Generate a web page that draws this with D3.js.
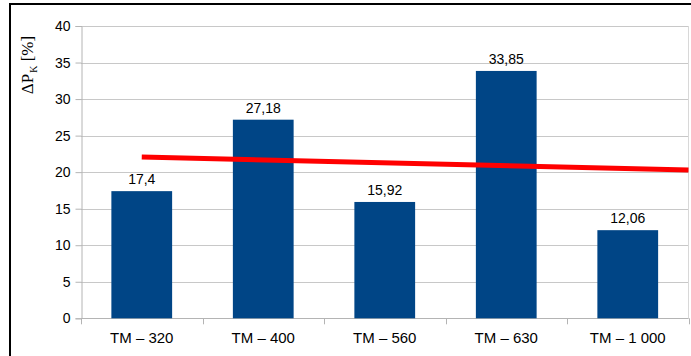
<!DOCTYPE html>
<html lang="en">
    <head>
        <meta charset="UTF-8" />
        <title>Delta P_K by transformer</title>
        <script src="https://d3js.org/d3.v7.min.js"></script>
        <style>
            body {
                margin: 0;
                background: #fff;
            }
            svg {
                display: block;
            }
            .tick text {
                font-family: "Liberation Sans", Arial, sans-serif;
                fill: #000;
            }
        </style>
    </head>
    <body>
        <svg width="691" height="356"></svg>

        <script>
            // data
            const categories = ["TM \u2013 320", "TM \u2013 400", "TM \u2013 560", "TM \u2013 630", "TM \u2013 1 000"];
            const values = [17.4, 27.18, 15.92, 33.85, 12.06];
            const valueLabels = ["17,4", "27,18", "15,92", "33,85", "12,06"];
            const yTicks = [0, 5, 10, 15, 20, 25, 30, 35, 40];

            const svg = d3.select("svg");
            const plotLeft = 81,
                plotRight = 688.5,
                plotTop = 26,
                plotBottom = 318.3;

            const x = d3
                .scaleBand()
                .domain(categories)
                .range([plotLeft, plotRight])
                .paddingInner(0.5)
                .paddingOuter(0.25);
            const y = d3.scaleLinear().domain([0, 40]).range([plotBottom, plotTop]);

            // outer frame (only left and top visible in the crop)
            svg.append("path")
                .attr("d", "M10,360 L10,4 L700,4")
                .attr("fill", "none")
                .attr("stroke", "#000")
                .attr("stroke-width", 2);

            // gridlines
            svg.append("g")
                .selectAll("line")
                .data(yTicks)
                .enter()
                .append("line")
                .attr("x1", plotLeft)
                .attr("x2", plotRight)
                .attr("y1", (d) => Math.round(y(d)) + 0.5)
                .attr("y2", (d) => Math.round(y(d)) + 0.5)
                .attr("stroke", "#c8c8c8");

            // right edge of plot area
            svg.append("line")
                .attr("x1", plotRight)
                .attr("x2", plotRight)
                .attr("y1", plotTop)
                .attr("y2", plotBottom)
                .attr("stroke", "#d8d8d8");

            // y axis
            const yAxis = svg
                .append("g")
                .attr("transform", `translate(${plotLeft + 0.5},0)`)
                .call(d3.axisLeft(y).tickValues(yTicks).tickSize(6).tickPadding(5));
            yAxis.select(".domain").attr("stroke", "#b4b4b4");
            yAxis.selectAll(".tick line").attr("stroke", "#b4b4b4");
            yAxis.selectAll(".tick text").attr("font-size", 14);

            // x axis: tick marks sit on category boundaries
            const step = x.step();
            const bounds = d3.range(categories.length + 1).map((i) => plotLeft + i * step);
            svg.append("line")
                .attr("x1", plotLeft)
                .attr("x2", plotRight)
                .attr("y1", Math.round(plotBottom) + 0.5)
                .attr("y2", Math.round(plotBottom) + 0.5)
                .attr("stroke", "#b4b4b4");
            svg.append("g")
                .selectAll("line")
                .data(bounds)
                .enter()
                .append("line")
                .attr("x1", (d) => Math.round(d) + 0.5)
                .attr("x2", (d) => Math.round(d) + 0.5)
                .attr("y1", plotBottom)
                .attr("y2", plotBottom + 6)
                .attr("stroke", "#b4b4b4");

            svg.append("g")
                .selectAll("text")
                .data(categories)
                .enter()
                .append("text")
                .attr("x", (d) => x(d) + x.bandwidth() / 2)
                .attr("y", 343)
                .attr("text-anchor", "middle")
                .attr("font-family", "'Liberation Sans', Arial, sans-serif")
                .attr("font-size", 15)
                .text((d) => d);

            // bars
            svg.append("g")
                .selectAll("rect")
                .data(values)
                .enter()
                .append("rect")
                .attr("x", (d, i) => x(categories[i]))
                .attr("y", (d) => y(d))
                .attr("width", x.bandwidth())
                .attr("height", (d) => plotBottom - y(d))
                .attr("fill", "#004586");

            // value labels
            svg.append("g")
                .selectAll("text")
                .data(values)
                .enter()
                .append("text")
                .attr("x", (d, i) => x(categories[i]) + x.bandwidth() / 2)
                .attr("y", (d) => y(d) - 7)
                .attr("text-anchor", "middle")
                .attr("font-family", "'Liberation Sans', Arial, sans-serif")
                .attr("font-size", 14)
                .text((d, i) => valueLabels[i]);

            // linear trend line, from first category centre to right edge
            const xs = values.map((d, i) => i + 1);
            const mx = d3.mean(xs),
                my = d3.mean(values);
            const slope =
                d3.sum(xs, (xi, i) => (xi - mx) * (values[i] - my)) /
                d3.sum(xs, (xi) => (xi - mx) * (xi - mx));
            const trend = (t) => my + slope * (t - mx);
            const px = (t) => plotLeft + (t - 0.5) * step;
            svg.append("line")
                .attr("x1", px(1))
                .attr("y1", y(trend(1)))
                .attr("x2", px(categories.length + 0.5))
                .attr("y2", y(trend(categories.length + 0.5)))
                .attr("stroke", "#ff0000")
                .attr("stroke-width", 5);

            // y title: ΔP with subscript K
            const title = svg
                .append("text")
                .attr("transform", "translate(33,65) rotate(-90)")
                .attr("text-anchor", "middle")
                .attr("font-family", "'Liberation Serif', 'Times New Roman', serif")
                .attr("font-size", 17);
            title.append("tspan").text("\u0394P");
            title.append("tspan").attr("font-size", 10).attr("dy", 4).attr("dx", 1).text("K");
            title.append("tspan").attr("dy", -4).text(" [%]");
        </script>
    </body>
</html>
